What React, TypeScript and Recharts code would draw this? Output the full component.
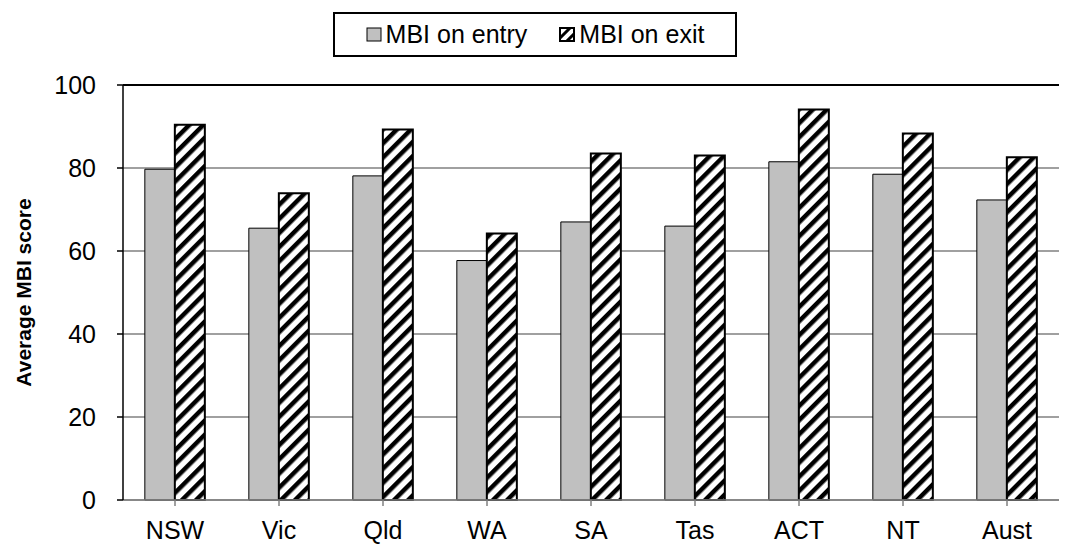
import React from "react";
import { BarChart, Bar, XAxis, YAxis, CartesianGrid, Legend, ReferenceLine } from "recharts";

const categories = ["NSW", "Vic", "Qld", "WA", "SA", "Tas", "ACT", "NT", "Aust"];
const entryValues = [79.7, 65.5, 78.1, 57.7, 67.0, 66.0, 81.5, 78.5, 72.3];
const exitValues = [90.4, 73.9, 89.3, 64.2, 83.5, 83.0, 94.1, 88.3, 82.6];
const yTicks = [0, 20, 40, 60, 80, 100];

const data = categories.map((c, i) => ({ name: c, entry: entryValues[i], exit: exitValues[i] }));

const FONT = "'Liberation Sans', Arial, sans-serif";

const LegendContent = () => (
  <div
    style={{
      border: "2px solid #000",
      boxSizing: "border-box",
      width: 404,
      height: 45,
      display: "flex",
      alignItems: "center",
      justifyContent: "center",
      fontFamily: FONT,
      fontSize: 25,
      color: "#000",
      background: "#fff",
      lineHeight: 1,
    }}
  >
    <svg width={16} height={15} style={{ marginRight: 4 }}>
      <rect x={1} y={1} width={14} height={13} fill="#C0C0C0" stroke="#000" strokeWidth={1} />
    </svg>
    <span style={{ marginRight: 32 }}>MBI on entry</span>
    <svg width={16} height={15} style={{ marginRight: 4 }}>
      <rect x={1} y={1} width={14} height={13} fill="url(#hatchLegend)" stroke="#000" strokeWidth={2} />
    </svg>
    <span>MBI on exit</span>
  </div>
);

export default function App() {
  return (
    <div style={{ position: "absolute", left: 0, top: 0, width: 1065, height: 545, background: "#fff" }}>
      <BarChart
        width={1065}
        height={545}
        data={data}
        margin={{ top: 40, right: 6, bottom: 0, left: 0 }}
        barCategoryGap="21%"
        barGap={0}
      >
        <defs>
          <pattern id="hatch" patternUnits="userSpaceOnUse" width={10} height={10} patternTransform="rotate(45)">
            <rect x={0} y={0} width={10} height={10} fill="#fff" />
            <rect x={0} y={0} width={4.5} height={10} fill="#000" />
          </pattern>
          <pattern id="hatchLegend" patternUnits="userSpaceOnUse" width={7} height={7} patternTransform="rotate(45)">
            <rect x={0} y={0} width={7} height={7} fill="#fff" />
            <rect x={0} y={0} width={3} height={7} fill="#000" />
          </pattern>
        </defs>
        <CartesianGrid vertical={false} stroke="#808080" strokeWidth={1.5} />
        <ReferenceLine y={100} stroke="#000" strokeWidth={2} />
        <XAxis
          dataKey="name"
          height={45}
          stroke="#808080"
          strokeWidth={1.5}
          tickLine={{ stroke: "#808080" }}
          tickSize={6}
          interval={0}
          tick={{ fill: "#000", fontSize: 25, fontFamily: FONT, dy: 13 }}
        />
        <YAxis
          domain={[0, 100]}
          ticks={yTicks}
          width={123}
          stroke="#000"
          strokeWidth={1.5}
          tickSize={6}
          tick={{ fill: "#000", fontSize: 25, fontFamily: FONT, dx: -19 }}
          label={{
            value: "Average MBI score",
            angle: -90,
            position: "insideLeft",
            dx: 19,
            dy: 0,
            style: { textAnchor: "middle", fontWeight: "bold", fontSize: 21, fontFamily: FONT, fill: "#000" },
          }}
        />
        <Legend
          verticalAlign="top"
          content={<LegendContent />}
          wrapperStyle={{ position: "absolute", top: 12, left: 333, width: 404, height: 45 }}
        />
        <Bar dataKey="entry" name="MBI on entry" fill="#C0C0C0" stroke="#000" strokeWidth={1} isAnimationActive={false} />
        <Bar dataKey="exit" name="MBI on exit" fill="url(#hatch)" stroke="#000" strokeWidth={2} isAnimationActive={false} />
      </BarChart>
    </div>
  );
}
